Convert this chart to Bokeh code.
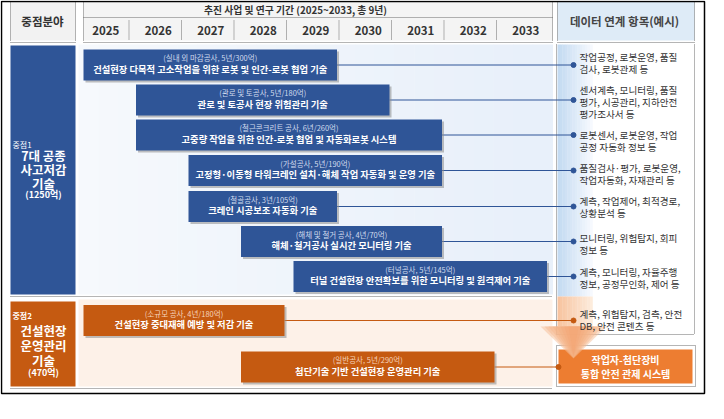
from bokeh.plotting import figure
from bokeh.models import Range1d, ColumnDataSource
from bokeh.core.properties import value
from bokeh.embed import file_html
from bokeh.resources import INLINE

FONT = value("Noto Sans CJK KR")

# ---------------- data ----------------
years = [2025, 2026, 2027, 2028, 2029, 2030, 2031, 2032, 2033]

blue_titles = [
    "건설현장 다목적 고소작업을 위한 로봇 및 인간-로봇 협업 기술",
    "관로 및 토공사 현장 위험관리 기술",
    "고중량 작업을 위한 인간-로봇 협업 및 자동화로봇 시스템",
    "고정형·이동형 타워크레인 설치·해체 작업 자동화 및 운영 기술",
    "크레인 시공보조 자동화 기술",
    "해체·철거공사 실시간 모니터링 기술",
    "터널 건설현장 안전확보를 위한 모니터링 및 원격제어 기술",
]
blue_fields = ["실내 외 마감공사", "관로 및 토공사", "철근콘크리트 공사", "가설공사",
               "철골공사", "해체 및 철거 공사", "터널공사"]
blue_start = [2025, 2026, 2026, 2027, 2027, 2028, 2029]
blue_years = [5, 5, 6, 5, 3, 4, 5]
blue_budget = [300, 180, 260, 190, 105, 70, 145]
blue_items = [
    ["작업공정, 로봇운영, 품질", "검사, 로봇관제 등"],
    ["센서계측, 모니터링, 품질", "평가, 시공관리, 지하안전", "평가조사서 등"],
    ["로봇센서, 로봇운영, 작업", "공정 자동화 정보 등"],
    ["품질검사·평가, 로봇운영,", "작업자동화, 자재관리 등"],
    ["계측, 작업제어, 최적경로,", "상황분석 등"],
    ["모니터링, 위험탐지, 회피", "정보 등"],
    ["계측, 모니터링, 자율주행", "정보, 공정무인화, 제어 등"],
]

orange_titles = ["건설현장 중대재해 예방 및 저감 기술", "첨단기술 기반 건설현장 운영관리 기술"]
orange_fields = ["소규모 공사", "일반공사"]
orange_start = [2025, 2028]
orange_years = [4, 5]
orange_budget = [180, 290]
orange_items = [["계측, 위험탐지, 검측, 안전", "DB, 안전 콘텐츠 등"]]

focus1 = ["7대 공종", "사고저감", "기술"]
focus1_budget = 1250
focus2 = ["건설현장", "운영관리", "기술"]
focus2_budget = 470
final_box = ["작업자-첨단장비", "통합 안전 관제 시스템"]
title = "추진 사업 및 연구 기간 (2025~2033, 총 9년)"

# ---------------- layout helpers ----------------
W, H = 706, 398
X0PX, YW = 85.0, 52.5  # pixel of start of 2025, pixels per year


def X(px):
    return 2025 + (px - X0PX) / YW


def dx(px):
    return px / YW


BLUE = "#2f5597"
ORANGE = "#c55a11"
LORANGE = "#ed7d31"
DOT = "1 1"
GRID = "#6b6b6b"

p = figure(width=W, height=H, x_range=Range1d(X(8), X(8 + W)), y_range=Range1d(8 + H, 8),
           output_backend="svg", toolbar_location=None, min_border=0)
p.axis.visible = False
p.grid.visible = False
p.outline_line_color = None
p.background_fill_color = "white"


def box(l, r, t, b, **kw):
    p.quad(left=[X(l)], right=[X(r)], top=[t], bottom=[b], **kw)


def hline(x1, x2, y, **kw):
    p.line([X(x1), X(x2)], [y, y], **kw)


def vline(x, y1, y2, **kw):
    p.line([X(x), X(x)], [y1, y2], **kw)


def txt(x, y, s, size, color="#222", bold=False, align="center"):
    p.text([X(x)], [y], text=[s], text_font=FONT, text_font_size=f"{size}px",
           text_color=color, text_align=align, text_baseline="middle",
           text_font_style="bold" if bold else "normal")


# header backgrounds
box(18, 83, 9, 48, fill_color="#f2f2f2", line_color=None)
box(91, 560, 9, 48, fill_color="#f4f4f4", line_color=None)
box(565, 702, 9, 48, fill_color="#deebf7", line_color=None)

# section backgrounds
n = 24
for i in range(n):
    l = 86 + (560 - 86) * i / n
    r = 86 + (560 - 86) * (i + 1) / n
    f = i / (n - 1)
    c1 = (int(246 - 14 * f), int(249 - 9 * f), int(253 - 3 * f))
    box(l, r + 0.5, 52, 302, fill_color="#%02x%02x%02x" % c1, line_color=None)
box(86, 560, 307, 394, fill_color="#fdf1e8", line_color=None)

# right arrow body (gradient strips)
m = 14
for i in range(m):
    l = 565 + 35 * i / m
    r = 565 + 35 * (i + 1) / m
    f = i / (m - 1)
    cb = (int(196 + 50 * f), int(219 + 30 * f), int(242 + 12 * f))
    co = (int(248 + 5 * f), int(196 + 40 * f), int(160 + 60 * f))
    box(l, r + 0.3, 52, 304, fill_color="#%02x%02x%02x" % tuple(min(v, 255) for v in cb), line_color=None)
    box(l, r + 0.3, 304, 334, fill_color="#%02x%02x%02x" % tuple(min(v, 255) for v in co), line_color=None)

# dotted grid of the header
for xx in (18, 83, 91, 560, 565, 702):
    vline(xx, 9, 48, line_color=GRID, line_dash=DOT, line_width=1)
hline(91, 560, 25, line_color=GRID, line_dash=DOT, line_width=1)
hline(18, 83, 50, line_color=GRID, line_dash=DOT, line_width=1)
hline(91, 560, 50, line_color=GRID, line_dash=DOT, line_width=1)
hline(565, 702, 50, line_color=GRID, line_dash=DOT, line_width=1)
for k in range(1, len(years)):
    xx = X0PX + k * YW - 1
    p.line([X(xx), X(xx)], [28, 48], line_color=GRID, line_dash=DOT, line_width=1)
hline(18, 560, 304, line_color=GRID, line_dash=DOT, line_width=1)
hline(18, 560, 396, line_color=GRID, line_dash=DOT, line_width=1)
# right column border
for xx in (564, 702):
    vline(xx, 52, 342, line_color=GRID, line_dash=DOT, line_width=1)
hline(564, 702, 342, line_color=GRID, line_dash=DOT, line_width=1)

# header texts
txt(50, 28, "중점분야", 11.5, "#333", True)
txt(303, 17, title, 9.8, "#333", True)
for k, yv in enumerate(years):
    txt(X0PX + YW * k + YW / 2 + 2, 38, str(yv), 11.5, "#333", True)
txt(632, 28, "데이터 연계 항목(예시)", 11.5, "#444", True)

# left cells
box(18, 83, 53, 302, fill_color=BLUE, line_color=None)
box(18, 83, 309, 394, fill_color=ORANGE, line_color=None)
txt(20, 152, "중점1", 8, "white", False, "left")
for i, s in enumerate(focus1):
    txt(51, 163 + 14 * i, s, 12.5, "white", True)
txt(51, 202, f"({focus1_budget}억)", 9, "white", True)
txt(20, 323, "중점2", 8, "white", True, "left")
for i, s in enumerate(focus2):
    txt(51, 338 + 15 * i, s, 12.5, "white", True)
txt(51, 380, f"({focus2_budget}억)", 9, "white", True)

# bars
blue_rows = [72.5, 107.5, 142.5, 178, 214, 249, 284]
orange_rows = [328, 374.5]
DOTX = 581
HH = 15.5


def bars(starts, durs, rows, color, tcolor, titles, fields, budgets, subcolor, ends):
    left = [s + dx(6) for s in starts]
    right = [s + d - dx(3) for s, d in zip(starts, durs)]
    top = [r - HH for r in rows]
    bottom = [r + HH for r in rows]
    # connectors
    for rr, ry, ex in zip(right, rows, ends):
        p.line([rr, X(ex)], [ry, ry], line_color=color, line_width=1)
        p.scatter([X(ex)], [ry], size=5, fill_color=color, line_color=color)
    # shadow
    p.quad(left=[v + dx(2) for v in left], right=[v + dx(2) for v in right],
           top=[v + 2 for v in top], bottom=[v + 2 for v in bottom],
           fill_color="#8c8c8c", fill_alpha=0.55, line_color=None)
    src = ColumnDataSource(dict(left=left, right=right, top=top, bottom=bottom,
                                cx=[(a + b) / 2 for a, b in zip(left, right)],
                                ys=[r - 7.5 for r in rows], yt=[r + 3.5 for r in rows],
                                title=titles,
                                sub=[f"({f}, {d}년/{b}억)" for f, d, b in zip(fields, durs, budgets)]))
    p.quad(left="left", right="right", top="top", bottom="bottom", source=src,
           fill_color=color, line_color=None)
    p.text(x="cx", y="ys", text="sub", source=src, text_font=FONT, text_font_size="7.5px",
           text_color=subcolor, text_align="center", text_baseline="middle")
    p.text(x="cx", y="yt", text="title", source=src, text_font=FONT, text_font_size="9.3px",
           text_color=tcolor, text_align="center", text_baseline="middle", text_font_style="bold")


bars(blue_start, blue_years, blue_rows, BLUE, "white", blue_titles, blue_fields, blue_budget,
     "#d0dbee", [DOTX] * 7)

# final box + arrow head
box(564, 703, 353, 394, fill_color=None, line_color=GRID, line_dash=DOT, line_width=1)
box(566, 700, 357, 391, fill_color=LORANGE, line_color=None)
for j in range(8):
    f = j / 7
    w = 33 - 4 * j
    col = (int(246 - 3 * f), int(190 - 25 * f), int(150 - 35 * f))
    p.patch([X(581 - w), X(581 + w), X(581)], [334, 334, 366 - 0.5 * j],
            fill_color="#%02x%02x%02x" % col, fill_alpha=0.5, line_color=None)

bars(orange_start, orange_years, orange_rows, ORANGE, "white", orange_titles, orange_fields,
     orange_budget, "#f6d3bb", [DOTX, 566])

txt(633, 367, final_box[0], 10, "white", True)
txt(633, 381, final_box[1], 10, "white", True)

# data items
item_y = [[64, 76], [97, 109, 121], [142, 154], [175, 187], [208, 220], [245, 257], [279, 291], [321, 333]]
for lines, ys in zip(blue_items + orange_items, item_y):
    for s, yy in zip(lines, ys):
        txt(587, yy, s, 9.6, "#333", False, "left")

# outer frame
box(9, 712, 9, 401, fill_color=None, line_color="black", line_width=1.5)

open("out.html", "w").write(file_html(p, INLINE))
